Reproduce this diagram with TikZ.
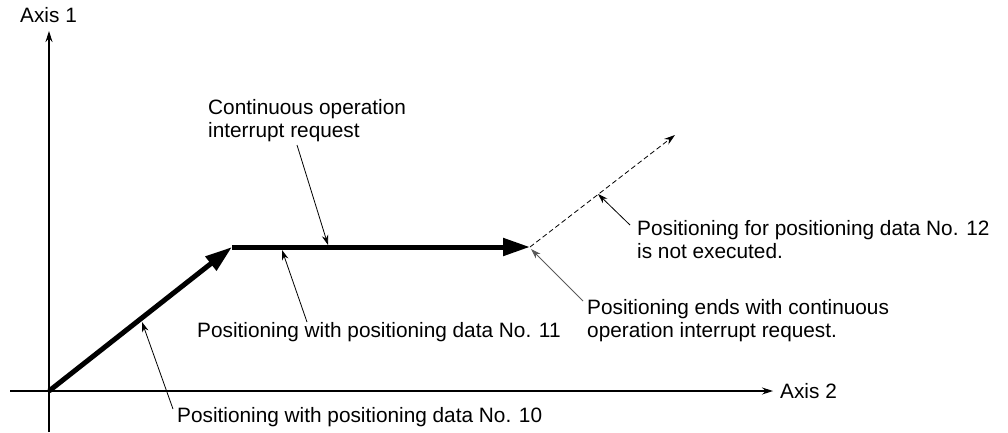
\documentclass[tikz,border=0pt]{standalone}
\usepackage{fontspec}
\setmainfont{Liberation Sans}
\usetikzlibrary{arrows.meta}
\begin{document}
\begin{tikzpicture}[x=1pt,y=-1pt,
  lbl/.style={font=\fontsize{20.8}{23}\selectfont, inner sep=0pt, align=left, anchor=base west},
  axisline/.style={line width=1.1pt, -{Stealth[length=11pt,width=7pt]}},
  thickpath/.style={line width=5pt, -{Triangle[length=27pt,width=17pt]}},
  ptr/.style={line width=0.8pt, -{Stealth[length=10pt,width=6.5pt]}},
  dashpath/.style={line width=0.8pt, dash pattern=on 5pt off 3pt, -{Stealth[length=11pt,width=7pt]}}
]
\useasboundingbox (0,0) rectangle (1008,432);
% axes
\coordinate (O) at (49,391);
\coordinate (ytop) at (49,31);
\coordinate (ybot) at (49,432);
\coordinate (xleft) at (10,391);
\coordinate (xright) at (773,391);
\draw[axisline] (ybot) -- (ytop);
\draw[axisline] (xleft) -- (xright);
\node[lbl] (ax1) at (20,22) {Axis 1};
\node[lbl] (ax2) at (780,398) {Axis 2};
% path
\coordinate (C) at (232,247);
\coordinate (E) at (530,247);
\coordinate (D) at (675,135);
\draw[thickpath] (O) -- (C);
\draw[thickpath] (C) -- (E);
\draw[dashpath] (E) -- (D);
% labels (base anchor = baseline of the last line)
\node[lbl] (cont) at (208,137) {Continuous operation\\interrupt request};
\node[lbl] (n11) at (197,337) {Positioning with positioning data No. 11};
\node[lbl] (n10) at (177,422) {Positioning with positioning data No. 10};
\node[lbl] (n12) at (637,258) {Positioning for positioning data No. 12\\is not executed.};
\node[lbl] (ends) at (587,337) {Positioning ends with continuous\\operation interrupt request.};
% pointers
\coordinate (contT) at (297,145);  \coordinate (contH) at (328,245);
\coordinate (n11T) at (307,322);   \coordinate (n11H) at (282,250);
\coordinate (n10T) at (173,409);   \coordinate (n10H) at (142,322);
\coordinate (n12T) at (630,225);   \coordinate (n12H) at (598,194);
\coordinate (endsT) at (583,301);  \coordinate (endsH) at (531,249);
\draw[ptr] (contT) -- (contH);
\draw[ptr] (n11T) -- (n11H);
\draw[ptr] (n10T) -- (n10H);
\draw[ptr] (n12T) -- (n12H);
\draw[ptr, draw=black!65] (endsT) -- (endsH);
\end{tikzpicture}
\end{document}
